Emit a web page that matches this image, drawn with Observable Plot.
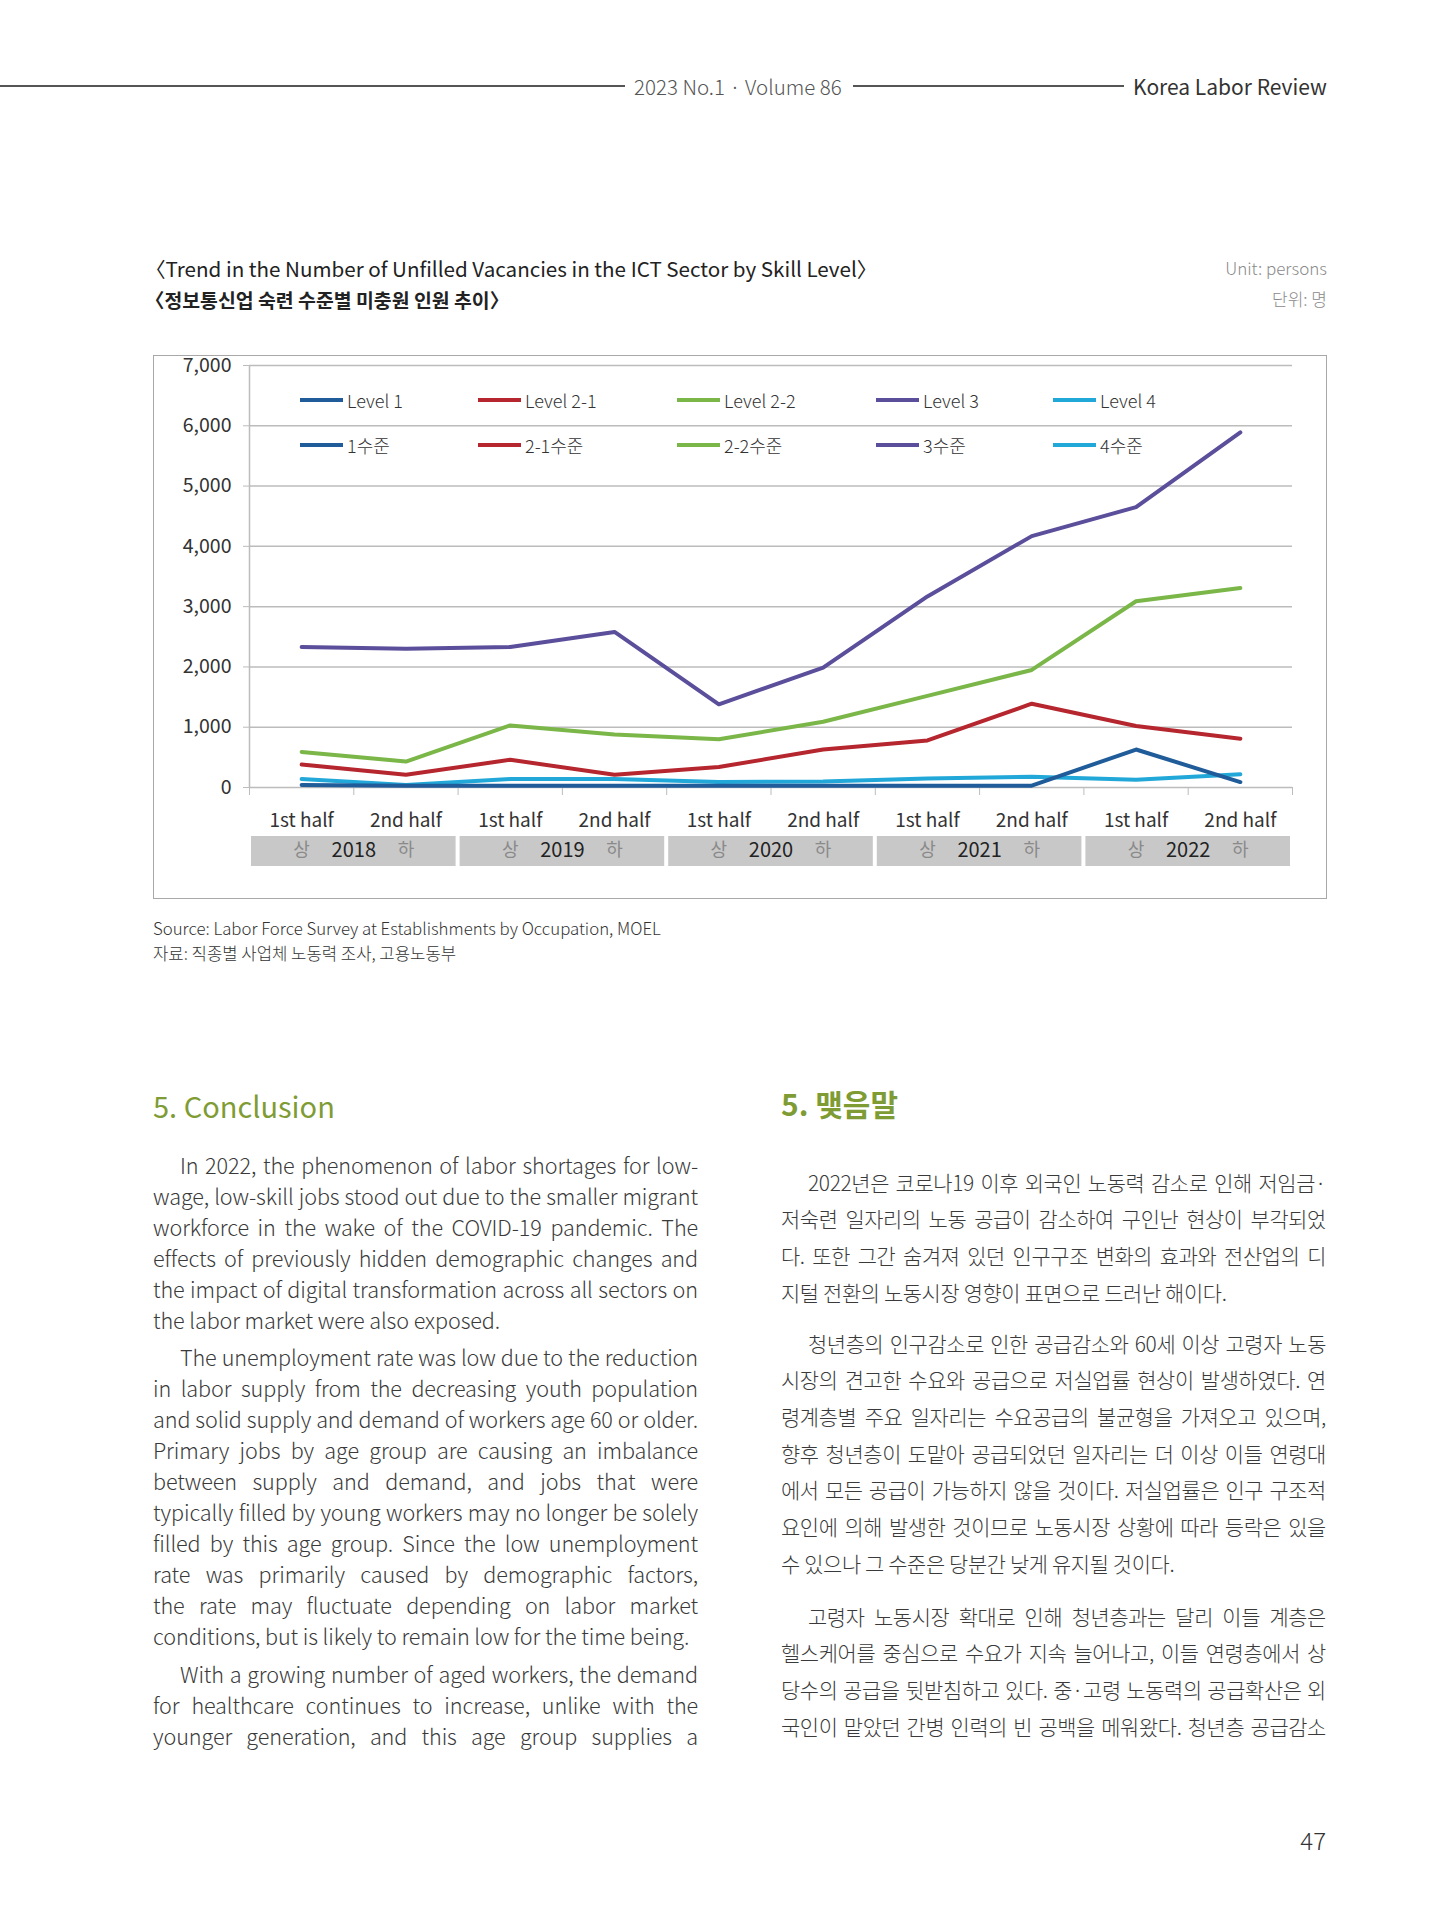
<!DOCTYPE html>
<html><head><meta charset="utf-8">
<script src="https://cdn.jsdelivr.net/npm/d3@7"></script>
<script src="https://cdn.jsdelivr.net/npm/@observablehq/plot@0.6"></script>
<style>
html,body{margin:0;padding:0;background:#fff}
body{width:1431px;height:1920px;position:relative;overflow:hidden;font-family:"Noto Sans CJK KR","Noto Sans",sans-serif;color:#333}
.t{position:absolute;white-space:nowrap}
.ln{position:absolute;white-space:nowrap;text-align:justify;text-align-last:justify}
.ln.last{text-align-last:left}
</style></head><body>
<script>
// ---------------- data ----------------
const halfLabels = ["1st half","2nd half","1st half","2nd half","1st half","2nd half","1st half","2nd half","1st half","2nd half"];
const years = ["2018","2019","2020","2021","2022"];
const halfKo = ["상","하"];
const seriesNames = ["Level 1","Level 2-1","Level 2-2","Level 3","Level 4"];
const seriesKo = ["1수준","2-1수준","2-2수준","3수준","4수준"];
const level1  = [40, 30, 30, 30, 30, 30, 30, 30, 630, 90];
const level21 = [380, 210, 460, 210, 340, 630, 780, 1390, 1020, 810];
const level22 = [590, 430, 1030, 880, 800, 1090, 1520, 1950, 3090, 3310];
const level3  = [2330, 2300, 2330, 2580, 1380, 1990, 3170, 4170, 4650, 5890];
const level4  = [140, 40, 140, 140, 90, 100, 150, 180, 130, 220];
const yTicks = [0,1000,2000,3000,4000,5000,6000,7000];

// ---------------- styles ----------------
const colors = ["#1f5c99","#b5262e","#7ab648","#5b4e9b","#22a8d8"];
const font = '"Noto Sans CJK KR","Noto Sans",sans-serif';

function put(text, opts){
  const d = document.createElement("div");
  d.className = opts.cls || "t";
  d.textContent = text;
  const lh = opts.lh || Math.round(opts.size*1.4);
  d.style.fontSize = opts.size + "px";
  d.style.lineHeight = lh + "px";
  d.style.top = (opts.y - lh/2) + "px";
  if (opts.right != null) { d.style.right = (1431 - opts.right) + "px"; d.style.textAlign = "right"; }
  else d.style.left = opts.x + "px";
  if (opts.w) d.style.width = opts.w + "px";
  if (opts.color) d.style.color = opts.color;
  if (opts.weight) d.style.fontWeight = opts.weight;
  if (opts.ls) d.style.letterSpacing = opts.ls;
  document.body.appendChild(d);
  return d;
}
function rule(x, y, w, h, c){
  const d = document.createElement("div");
  Object.assign(d.style,{position:"absolute",left:x+"px",top:y+"px",width:w+"px",height:h+"px",background:c});
  document.body.appendChild(d);
}

// header
rule(0, 85, 625, 1.6, "#555");
rule(853, 85, 271, 1.6, "#555");
put("2023 No.1 · Volume 86", {x:634, y:86, size:20.5, color:"#555", weight:300});
put("Korea Labor Review", {x:1133, y:86, size:21, color:"#333"});

// titles
put("〈Trend in the Number of Unfilled Vacancies in the ICT Sector by Skill Level〉", {x:145, y:268, size:20.6, color:"#222"});
put("〈정보통신업 숙련 수준별 미충원 인원 추이〉", {x:145, y:299, size:19.4, color:"#222", weight:700});
put("Unit: persons", {right:1327, y:268, size:17, color:"#8a8a8a", weight:300});
put("단위: 명", {right:1327, y:299, size:17, color:"#8a8a8a", weight:300});

// chart box
const box = document.createElement("div");
Object.assign(box.style,{position:"absolute",left:"153px",top:"355px",width:"1174px",height:"544px",border:"1.5px solid #a8a8a8",boxSizing:"border-box"});
document.body.appendChild(box);

const rows = [];
const order = [4,0,1,2,3];
const vals = [level1, level21, level22, level3, level4];
order.forEach(k => vals[k].forEach((v,i) => rows.push({series: seriesNames[k], i, v})));
const idx = d3.range(10);
const bounds = d3.range(11).map(b => b - 0.5);

const chart = Plot.plot({
  width: 1174, height: 544,
  marginLeft: 96, marginRight: 35, marginTop: 10, marginBottom: 112,
  style: {fontFamily: font, fontSize: "19px", color: "#333", background: "transparent", overflow: "visible"},
  x: {type: "linear", domain: [-0.5, 9.5]},
  y: {domain: [0, 7000]},
  color: {domain: seriesNames, range: colors},
  marks: [
    Plot.gridY(yTicks, {stroke: "#bcbcbc", strokeOpacity: 1, strokeWidth: 1.5}),
    Plot.axisY(yTicks, {tickSize: 6, tickPadding: 12, tickFormat: d3.format(","), stroke: "#bcbcbc", fontSize: 19.5, fill: "#333", label: null}),
    Plot.ruleX([-0.5], {stroke: "#bcbcbc", strokeWidth: 1.5}),
    Plot.axisX(bounds, {tickSize: 8, tickFormat: () => "", stroke: "#bcbcbc", label: null}),
    Plot.rect(years, {x1: (d,j) => 2*j - 0.5, x2: (d,j) => 2*j + 1.5, insetLeft: 2, insetRight: 2, insetTop: 392, dy: 79, fill: "#c8c8c8"}),
    Plot.text(halfLabels, {x: (d,i) => i, text: d => d, frameAnchor: "bottom", dy: 39, fontSize: 19, fill: "#333"}),
    Plot.text(years, {x: (d,j) => 2*j + 0.5, text: d => d, frameAnchor: "bottom", dy: 69, fontSize: 20, fill: "#222"}),
    Plot.text(idx, {x: i => i, text: i => halfKo[i % 2], frameAnchor: "bottom", dy: 68, fontSize: 18, fill: "#8a8a8a"}),
    Plot.line(rows, {x: "i", y: "v", z: "series", stroke: "series", strokeWidth: 4})
  ]
});
Object.assign(chart.style, {position: "absolute", left: "153px", top: "355px"});
document.body.appendChild(chart);

// legend
const legX = [300, 478, 677, 876, 1053];
[seriesNames, seriesKo].forEach((labels, r) => {
  const y = r === 0 ? 400 : 445;
  labels.forEach((lab, k) => {
    rule(legX[k], y - 2, 43, 4, colors[k]);
    put(lab, {x: legX[k] + 47, y: y, size: 18, color: "#333", weight: 300});
  });
});

// source
put("Source: Labor Force Survey at Establishments by Occupation, MOEL", {x:153, y:928, size:16.8, color:"#333", weight:300});
put("자료: 직종별 사업체 노동력 조사, 고용노동부", {x:153, y:953, size:16.7, color:"#333", weight:300});

// headings
put("5. Conclusion", {x:153, y:1105, size:29, color:"#7f9c34"});
put("5. 맺음말", {x:781, y:1103, size:30, color:"#7f9c34", weight:700});

// body text
const enParas = [
  ["In 2022, the phenomenon of labor shortages for low-","wage, low-skill jobs stood out due to the smaller migrant","workforce in the wake of the COVID-19 pandemic. The","effects of previously hidden demographic changes and","the impact of digital transformation across all sectors on","the labor market were also exposed."],
  ["The unemployment rate was low due to the reduction","in labor supply from the decreasing youth population","and solid supply and demand of workers age 60 or older.","Primary jobs by age group are causing an imbalance","between supply and demand, and jobs that were","typically filled by young workers may no longer be solely","filled by this age group. Since the low unemployment","rate was primarily caused by demographic factors,","the rate may fluctuate depending on labor market","conditions, but is likely to remain low for the time being."],
  ["With a growing number of aged workers, the demand","for healthcare continues to increase, unlike with the","younger generation, and this age group supplies a"]
];
const enStarts = [1165, 1357, 1674];
const koParas = [
  ["2022년은 코로나19 이후 외국인 노동력 감소로 인해 저임금·","저숙련 일자리의 노동 공급이 감소하여 구인난 현상이 부각되었","다. 또한 그간 숨겨져 있던 인구구조 변화의 효과와 전산업의 디","지털 전환의 노동시장 영향이 표면으로 드러난 해이다."],
  ["청년층의 인구감소로 인한 공급감소와 60세 이상 고령자 노동","시장의 견고한 수요와 공급으로 저실업률 현상이 발생하였다. 연","령계층별 주요 일자리는 수요공급의 불균형을 가져오고 있으며,","향후 청년층이 도맡아 공급되었던 일자리는 더 이상 이들 연령대","에서 모든 공급이 가능하지 않을 것이다. 저실업률은 인구 구조적","요인에 의해 발생한 것이므로 노동시장 상황에 따라 등락은 있을","수 있으나 그 수준은 당분간 낮게 유지될 것이다."],
  ["고령자 노동시장 확대로 인해 청년층과는 달리 이들 계층은","헬스케어를 중심으로 수요가 지속 늘어나고, 이들 연령층에서 상","당수의 공급을 뒷받침하고 있다. 중·고령 노동력의 공급확산은 외","국인이 맡았던 간병 인력의 빈 공백을 메워왔다. 청년층 공급감소"]
];
const koStarts = [1182, 1343, 1616];
function para(list, starts, x0, width, step, size, lastJust, ls){
  list.forEach((p, pi) => {
    p.forEach((line, li) => {
      const indent = li === 0 ? 27 : 0;
      const isLast = li === p.length - 1 && !(pi === list.length - 1 && lastJust);
      put(line, {cls: "ln" + (isLast ? " last" : ""), x: x0 + indent, w: width - indent, y: starts[pi] + li*step, size, color: "#3a3a3a", weight: 300, ls});
    });
  });
}
para(enParas, enStarts, 153, 545, 31, 21.6, true, "-0.1px");
para(koParas, koStarts, 781, 545, 36.7, 20.9, true, "-0.35px");

put("47", {right:1326, y:1840, size:24, color:"#333", weight:300});
</script>
</body></html>
